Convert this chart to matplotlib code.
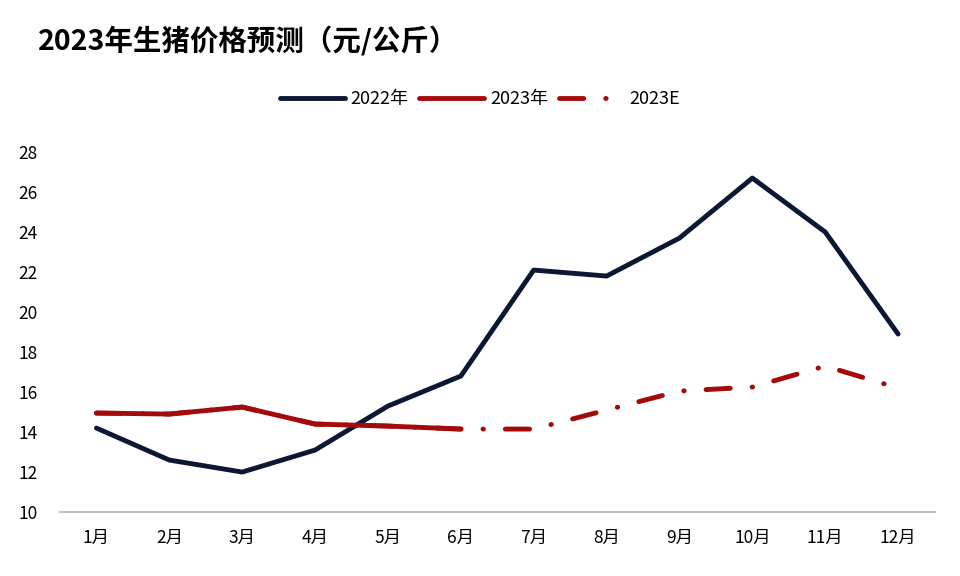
import matplotlib
matplotlib.use("Agg")
import matplotlib.pyplot as plt

plt.rcParams['font.family'] = ['Noto Sans CJK SC', 'DejaVu Sans']

months = ['1月', '2月', '3月', '4月', '5月', '6月', '7月', '8月', '9月', '10月', '11月', '12月']
price_2022 = [14.2, 12.6, 12.0, 13.1, 15.3, 16.8, 22.1, 21.8, 23.7, 26.7, 24.0, 18.9]
price_2023 = [14.95, 14.9, 15.25, 14.4, 14.3, 14.15]
price_2023e = [14.95, 14.9, 15.25, 14.4, 14.3, 14.15, 14.15, 15.1, 16.05, 16.25, 17.3, 16.2]

navy = '#0c1734'
red = '#a50a0a'

fig = plt.figure(figsize=(9.6, 5.76), dpi=100)
ax = fig.add_axes([0.0625, 0.111, 0.911, 0.625])

x = range(len(months))
ax.plot(x, price_2022, color=navy, lw=3.5, solid_capstyle='round', label='2022年')
ax.plot(range(len(price_2023)), price_2023, color=red, lw=3.5, solid_capstyle='round', label='2023年')
ax.plot(x, price_2023e, color=red, lw=3.5, dashes=(5, 4.5, 0.1, 4.5), dash_capstyle='round', label='2023E')

ax.set_xlim(-0.5, 11.5)
ax.set_ylim(10, 28)
ax.set_yticks(range(10, 29, 2))
ax.set_xticks(list(x))
ax.set_xticklabels(months)
ax.tick_params(axis='both', length=0, labelsize=12.5)
ax.tick_params(axis='y', pad=16)
ax.tick_params(axis='x', pad=12)
for s in ['top', 'right', 'left']:
    ax.spines[s].set_visible(False)
ax.spines['bottom'].set_color('#bfbfbf')
ax.spines['bottom'].set_linewidth(1.5)

fig.text(0.04, 0.93, '2023年生猪价格预测（元/公斤）', fontsize=20.5, fontweight='heavy', va='center')
fig.legend(loc='center', bbox_to_anchor=(0.5, 0.828), ncol=3, frameon=False, fontsize=13,
           handlelength=3.6, handletextpad=0.3, columnspacing=0.6)

fig.savefig('out.png', dpi=100)
